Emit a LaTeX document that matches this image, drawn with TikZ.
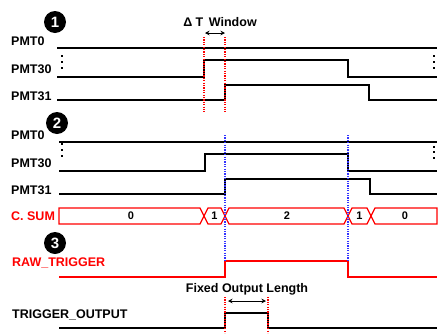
\documentclass[tikz,border=0pt]{standalone}
\usepackage{fontspec}
\setmainfont{Liberation Sans}
\usetikzlibrary{arrows.meta}
\begin{document}
\begin{tikzpicture}[x=1pt,y=-1pt,
  sig/.style={line width=1.7pt, black},
  rsig/.style={line width=1.6pt, red},
  lbl/.style={anchor=west, inner sep=0pt, font=\bfseries\fontsize{12.5}{14}\selectfont},
  rlbl/.style={lbl, text=red},
  numc/.style={circle, fill=black, text=white, minimum size=22pt, inner sep=0pt, font=\bfseries\fontsize{15}{15}\selectfont},
  rdot/.style={red, line width=1.4pt, dash pattern=on 1.2pt off 1.2pt},
  bdot/.style={blue!80!white, line width=1.4pt, dash pattern=on 1.2pt off 1.2pt},
  dimarrow/.style={line width=1pt, {Stealth[length=4.5pt,width=4.5pt]}-{Stealth[length=4.5pt,width=4.5pt]}},
  bus/.style={red, line width=1.3pt, line join=miter},
  busnum/.style={inner sep=0pt, font=\bfseries\fontsize{11}{12}\selectfont},
  toptext/.style={inner sep=0pt, font=\bfseries\fontsize{12.5}{14}\selectfont}
]
\useasboundingbox (0,0) rectangle (440,333);

% ---------- numbered circles ----------
\node[numc] (c1) at (55,22) {1};
\node[numc] (c2) at (57,123) {2};
\node[numc] (c3) at (55,243) {3};

% ---------- section 1 labels ----------
\node[lbl] (l1a) at (11,41) {PMT0};
\node[lbl] (l1b) at (11,69) {PMT30};
\node[lbl] (l1c) at (11,96) {PMT31};

% ---------- section 1 waveforms ----------
\draw[sig] (57,48) -- (437,48);
\draw[sig] (57,77) -- (204,77) -- (204,60) -- (348,60) -- (348,77) -- (437,77);
\draw[sig] (57,100) -- (225,100) -- (225,85) -- (369,85) -- (369,100) -- (437,100);

% dots
\foreach \yy in {56,62,68} {
  \fill (61,\yy-1.1) rectangle (63.2,\yy+1.1);
  \fill (433,\yy-1.1) rectangle (435.2,\yy+1.1);
}

% delta T window
\node[toptext] (dt) at (220,22) {Δ T\, Window};
\coordinate (dtL) at (205,33);
\coordinate (dtR) at (225,33);
\draw[dimarrow] (dtL) -- (dtR);
\draw[rdot] (204,37) -- (204,112);
\draw[rdot] (225,37) -- (225,112);

% ---------- section 2 labels ----------
\node[lbl] (l2a) at (11,135) {PMT0};
\node[lbl] (l2b) at (11,163) {PMT30};
\node[lbl] (l2c) at (11,190) {PMT31};
\node[rlbl] (l2d) at (11,216) {C. SUM};

% ---------- section 2 waveforms ----------
\draw[sig] (59,142) -- (437,142);
\draw[sig] (59,171) -- (205,171) -- (205,154) -- (348,154) -- (348,171) -- (437,171);
\draw[sig] (59,194) -- (225,194) -- (225,179) -- (370,179) -- (370,194) -- (437,194);

\foreach \yy in {144,150,156} {
  \fill (61,\yy-1.1) rectangle (63.2,\yy+1.1);
}
\foreach \yy in {147,152,158} {
  \fill (433,\yy-1.1) rectangle (435.2,\yy+1.1);
}

% C. SUM bus
\def\bt{208}\def\bb{224}\def\bm{216}\def\dd{4}
\draw[bus] (59,\bt) -- (204-\dd,\bt) -- (204,\bm) -- (204-\dd,\bb) -- (59,\bb) -- cycle;
\draw[bus] (204,\bm) -- (204+\dd,\bt) -- (225-\dd,\bt) -- (225,\bm) -- (225-\dd,\bb) -- (204+\dd,\bb) -- cycle;
\draw[bus] (225,\bm) -- (225+\dd,\bt) -- (348-\dd,\bt) -- (348,\bm) -- (348-\dd,\bb) -- (225+\dd,\bb) -- cycle;
\draw[bus] (348,\bm) -- (348+\dd,\bt) -- (371-\dd,\bt) -- (371,\bm) -- (371-\dd,\bb) -- (348+\dd,\bb) -- cycle;
\draw[bus] (371,\bm) -- (371+\dd,\bt) -- (437,\bt) -- (437,\bb) -- (371+\dd,\bb) -- cycle;
\node[busnum] (s0) at (131,216) {0};
\node[busnum] (s1) at (214.5,216) {1};
\node[busnum] (s2) at (287,216) {2};
\node[busnum] (s3) at (359.5,216) {1};
\node[busnum] (s4) at (405,216) {0};

% ---------- section 3 ----------
\node[rlbl] (l3a) at (12,263) {RAW\_TRIGGER};
\draw[rsig] (59,277) -- (225,277) -- (225,261) -- (348,261) -- (348,277) -- (437,277);

\node[lbl] (l3b) at (12,315) {TRIGGER\_OUTPUT};
\draw[sig] (59,328) -- (225,328) -- (225,313) -- (268,313) -- (268,328) -- (437,328);

% blue dotted
\draw[bdot] (225,135) -- (225,262);
\draw[bdot] (348,135) -- (348,262);

% fixed output length
\node[toptext] (fol) at (247,289) {Fixed Output Length};
\coordinate (fL) at (228,301);
\coordinate (fR) at (266,301);
\draw[dimarrow] (fL) -- (fR);
\draw[rdot] (225,297) -- (225,333);
\draw[rdot] (268,297) -- (268,333);
\end{tikzpicture}
\end{document}
